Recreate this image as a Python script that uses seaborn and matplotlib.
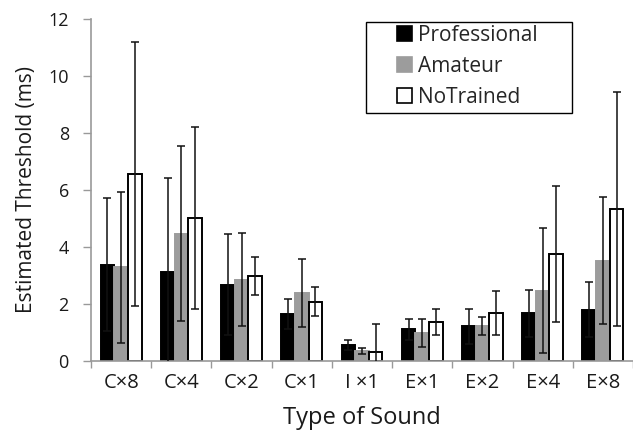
import numpy as np
import pandas as pd
import matplotlib
matplotlib.use("Agg")
import matplotlib.pyplot as plt
import seaborn as sns
from matplotlib.patches import Patch, Rectangle

sounds = ["C×8", "C×4", "C×2", "C×1", "I ×1", "E×1", "E×2", "E×4", "E×8"]
groups = ["Professional", "Amateur", "NoTrained"]

professional = [3.38, 3.12, 2.68, 1.64, 0.57, 1.12, 1.21, 1.67, 1.80]
amateur = [3.29, 4.47, 2.85, 2.39, 0.36, 0.99, 1.23, 2.47, 3.52]
notrained = [6.56, 5.02, 2.99, 2.08, 0.33, 1.37, 1.69, 3.75, 5.33]

professional_err = [2.34, 3.31, 1.77, 0.52, 0.18, 0.37, 0.62, 0.83, 0.97]
amateur_err = [2.65, 3.06, 1.63, 1.20, 0.10, 0.50, 0.31, 2.20, 2.23]
notrained_err = [4.63, 3.20, 0.66, 0.50, 0.97, 0.46, 0.78, 2.38, 4.10]

means = [professional, amateur, notrained]
errs = [professional_err, amateur_err, notrained_err]

df = pd.DataFrame({
    "sound": np.tile(sounds, len(groups)),
    "group": np.repeat(groups, len(sounds)),
    "value": np.concatenate(means),
})

sns.set_style("white")
plt.rcParams["font.family"] = ["Open Sans", "DejaVu Sans"]

W, H = 633, 432
fig = plt.figure(figsize=(W / 100, H / 100), dpi=100)
ax = fig.add_axes([0.1438, 0.1644, 0.8562, 0.7917])

fills = ["#000000", "#9c9c9c", "#ffffff"]
edges = ["#000000", "#9c9c9c", "#000000"]

sns.barplot(data=df, x="sound", y="value", hue="group", order=sounds,
            hue_order=groups, palette=fills, width=0.68, errorbar=None,
            saturation=1, legend=False, ax=ax)

for container, ec, err in zip(ax.containers, edges, errs):
    xs, ys = [], []
    for bar in container:
        bar.set_edgecolor(ec)
        bar.set_linewidth(1.4)
        xs.append(bar.get_x() + bar.get_width() / 2)
        ys.append(bar.get_height())
    ax.errorbar(xs, ys, yerr=err, fmt="none", ecolor="#111111",
                elinewidth=1.1, capsize=3, capthick=1.1, zorder=5)

ax.set_xlim(-0.5, len(sounds) - 0.5)
ax.set_ylim(0, 12)
ax.set_yticks(np.arange(0, 13, 2))

ax.set_xticks(np.arange(len(sounds)))
ax.set_xticklabels(sounds)
ax.set_xticks(np.arange(-0.5, len(sounds), 1.0), minor=True)
ax.tick_params(axis="x", which="major", length=0, pad=9, labelsize=14.5,
               labelcolor="#1a1a1a")
ax.tick_params(axis="x", which="minor", length=5, width=1, color="#999999",
               direction="out", bottom=True)
ax.tick_params(axis="y", length=6, width=1, color="#999999", direction="out",
               left=True, labelsize=13, labelcolor="#1a1a1a", pad=10)

for side in ["top", "right"]:
    ax.spines[side].set_visible(False)
for side in ["left", "bottom"]:
    ax.spines[side].set_color("#999999")
    ax.spines[side].set_linewidth(1.2)

ax.set_xlabel("Type of Sound", fontsize=17, color="#1a1a1a", labelpad=9)
ax.set_ylabel("Estimated Threshold (ms)", fontsize=15, color="#1a1a1a",
              labelpad=8)

handles = [Patch(facecolor=f, edgecolor=e, linewidth=1.2)
           for f, e in zip(fills, edges)]
leg = fig.legend(handles, groups, loc="upper left",
                 bbox_to_anchor=(397 / W, 1 - 25 / H), fontsize=15,
                 frameon=False, handlelength=0.72, handleheight=0.72,
                 handletextpad=0.3, labelspacing=0.48, borderpad=0,
                 borderaxespad=0)

# legend frame with generous side padding
fig.patches.append(Rectangle((365.7 / W, 1 - 112.7 / H), 206 / W, 91 / H,
                             transform=fig.transFigure, fill=False,
                             edgecolor="#000000", linewidth=1.0))

fig.savefig("out.png", dpi=100)
